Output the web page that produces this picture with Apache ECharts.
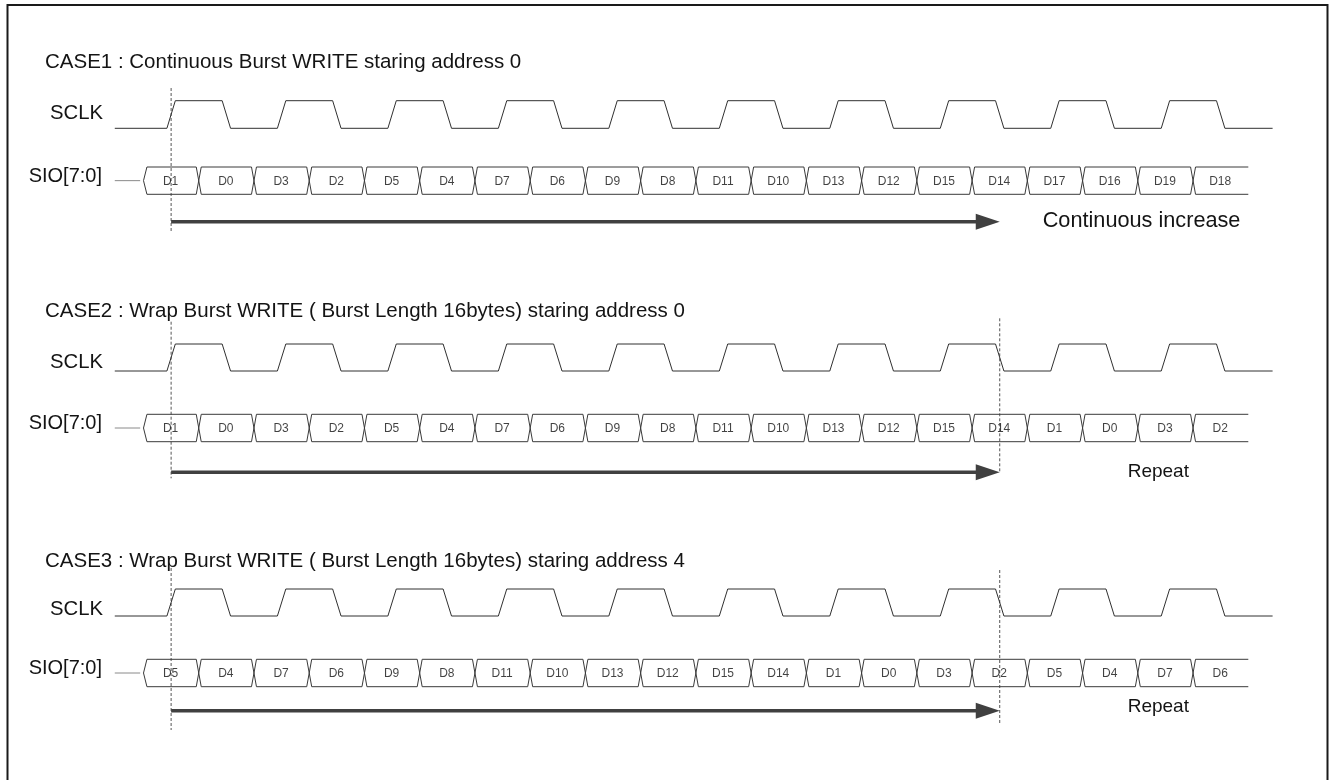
<!DOCTYPE html>
<html><head><meta charset="utf-8">
<script src="https://cdn.jsdelivr.net/npm/echarts@6/dist/echarts.min.js"></script>
<style>html,body{margin:0;padding:0;background:#fff}#c{width:1330px;height:780px}</style>
</head><body><div id="c"></div>
<script>
// ---------- data ----------
const caseTitles = [
  'CASE1 : Continuous Burst WRITE staring address 0',
  'CASE2 : Wrap Burst WRITE ( Burst Length 16bytes) staring address 0',
  'CASE3 : Wrap Burst WRITE ( Burst Length 16bytes) staring address 4'
];
const signalNames = ['SCLK', 'SIO[7:0]'];
const case1Data = ['D1','D0','D3','D2','D5','D4','D7','D6','D9','D8','D11','D10','D13','D12','D15','D14','D17','D16','D19','D18'];
const case2Data = ['D1','D0','D3','D2','D5','D4','D7','D6','D9','D8','D11','D10','D13','D12','D15','D14','D1','D0','D3','D2'];
const case3Data = ['D5','D4','D7','D6','D9','D8','D11','D10','D13','D12','D15','D14','D1','D0','D3','D2','D5','D4','D7','D6'];
const sclkRise = [0.5, 2.5, 4.5, 6.5, 8.5, 10.5, 12.5, 14.5, 16.5, 18.5];
const sclkFall = [1.5, 3.5, 5.5, 7.5, 9.5, 11.5, 13.5, 15.5, 17.5, 19.5];
const sclkSpan = [-0.52, 20.44];
const busStubStart = -0.52;
const arrowStart = [0.5, 0.5, 0.5];
const arrowEnd = [15.5, 15.5, 15.5];
const wrapMark = [null, 15.5, 15.5];
const arrowNotes = ['Continuous increase', 'Repeat', 'Repeat'];

// ---------- layout ----------
const W = 1330, T0 = 143.5, U = 55.24;
const FONT = '"Liberation Sans", Arial, Helvetica, sans-serif';
const L = [
  {title:62.2, clkHi:100.7, clkLo:128.3, sclkLbl:113.8, busTop:167, busBot:194.3, sioLbl:176.8, arrow:221.7, dashTop:88, dashBot:232, wrapTop:0, wrapBot:0, noteX:1042.7, noteY:221, noteSize:21.7},
  {title:311.7, clkHi:344, clkLo:371, sclkLbl:362.5, busTop:414.3, busBot:441.7, sioLbl:423.5, arrow:472.3, dashTop:321.7, dashBot:478.3, wrapTop:318.3, wrapBot:473.3, noteX:1127.7, noteY:471.7, noteSize:19},
  {title:561.2, clkHi:589, clkLo:616, sclkLbl:609, busTop:659.3, busBot:686.7, sioLbl:668.5, arrow:710.7, dashTop:568, dashBot:730, wrapTop:570, wrapBot:723.3, noteX:1127.7, noteY:706.7, noteSize:19}
];
const caseData = [case1Data, case2Data, case3Data];
const clkHW = 0.076, xHW = 0.045, startHW = 0.062;
const xMin = -T0 / U, xMax = (W - T0) / U;

function clockPoints() {
  const p = [[sclkSpan[0], 0]];
  for (let i = 0; i < sclkRise.length; i++) {
    p.push([sclkRise[i] - clkHW, 0], [sclkRise[i] + clkHW, 1]);
    p.push([sclkFall[i] - clkHW, 1], [sclkFall[i] + clkHW, 0]);
  }
  p.push([sclkSpan[1], 0]);
  return p;
}
function busPoints(n, sign) {
  const p = [[0, 0], [startHW, sign]];
  let lvl = sign;
  for (let k = 1; k < n; k++) {
    p.push([k - xHW, lvl], [k + xHW, -lvl]);
    lvl = -lvl;
  }
  p.push([n, lvl]);
  return p;
}

const grids = [], xAxes = [], yAxes = [], series = [];
L.forEach((c, i) => {
  const gc = grids.length;
  grids.push({left: 0, width: W, top: c.clkHi, height: c.clkLo - c.clkHi});
  grids.push({left: 0, width: W, top: c.busTop, height: c.busBot - c.busTop});
  xAxes.push({type:'value', gridIndex:gc, min:xMin, max:xMax, show:false});
  xAxes.push({type:'value', gridIndex:gc+1, min:xMin, max:xMax, show:false});
  yAxes.push({type:'value', gridIndex:gc, min:0, max:1, show:false});
  yAxes.push({type:'value', gridIndex:gc+1, min:-1, max:1, show:false});
  const base = {type:'line', symbol:'none', clip:false, animation:false, silent:true};
  series.push(Object.assign({}, base, {xAxisIndex:gc, yAxisIndex:gc, data:clockPoints(), lineStyle:{color:'#303030', width:1}}));
  const d = caseData[i];
  series.push(Object.assign({}, base, {xAxisIndex:gc+1, yAxisIndex:gc+1, data:busPoints(d.length, 1), lineStyle:{color:'#3a3a3a', width:1}}));
  series.push(Object.assign({}, base, {xAxisIndex:gc+1, yAxisIndex:gc+1, data:busPoints(d.length, -1), lineStyle:{color:'#3a3a3a', width:1}}));
  series.push(Object.assign({}, base, {xAxisIndex:gc+1, yAxisIndex:gc+1, data:[[busStubStart, 0], [-0.06, 0]], lineStyle:{color:'#8a8a8a', width:1}}));
  series.push({type:'scatter', xAxisIndex:gc+1, yAxisIndex:gc+1, symbolSize:0, animation:false, silent:true, clip:false,
    data: d.map((name, k) => ({name: name, value: [k + 0.5, 0]})),
    label:{show:true, position:'inside', formatter:'{b}', color:'#111111', fontSize:12, fontFamily:FONT, offset:[-0.5, 1]}});
});

const chart = echarts.init(document.getElementById('c'), null, {renderer:'canvas'});
chart.setOption({
  backgroundColor:'#ffffff',
  animation:false,
  grid:grids, xAxis:xAxes, yAxis:yAxes, series:series
});

function txt(text, x, y, size, align) {
  return {type:'text', silent:true, style:{text:text, x:x, y:y, font:size + 'px ' + FONT, fill:'#141414',
    align:align, textAlign:align, verticalAlign:'middle', textVerticalAlign:'middle'}};
}
const g = [];
g.push({type:'rect', silent:true, shape:{x:7.5, y:5, width:1320, height:800}, style:{fill:'none', stroke:'#1a1a1a', lineWidth:2}});
L.forEach((c, i) => {
  const ax = i * 2 + 1;
  const px = t => chart.convertToPixel({xAxisIndex: ax}, t);
  g.push(txt(caseTitles[i], 45, c.title, 20.5, 'left'));
  g.push(txt(signalNames[0], 103, c.sclkLbl, 20.3, 'right'));
  g.push(txt(signalNames[1], 102, c.sioLbl, 20, 'right'));
  const x0 = px(arrowStart[i]);
  g.push({type:'line', silent:true, shape:{x1:x0, y1:c.dashTop, x2:x0, y2:c.dashBot}, style:{stroke:'#555', lineWidth:1, lineDash:[3,2]}});
  if (wrapMark[i] !== null) {
    const xw = px(wrapMark[i]);
    g.push({type:'line', silent:true, shape:{x1:xw, y1:c.wrapTop, x2:xw, y2:c.wrapBot}, style:{stroke:'#555', lineWidth:1, lineDash:[3,2]}});
  }
  const x1 = px(arrowEnd[i]);
  g.push({type:'line', silent:true, shape:{x1:x0, y1:c.arrow, x2:x1 - 20, y2:c.arrow}, style:{stroke:'#404040', lineWidth:3.6}});
  g.push({type:'polygon', silent:true, shape:{points:[[x1, c.arrow], [x1 - 24, c.arrow - 8], [x1 - 24, c.arrow + 8]]}, style:{fill:'#404040'}});
  g.push(txt(arrowNotes[i], c.noteX, c.noteY, c.noteSize, 'left'));
});
chart.setOption({graphic:g});
</script>
</body></html>
